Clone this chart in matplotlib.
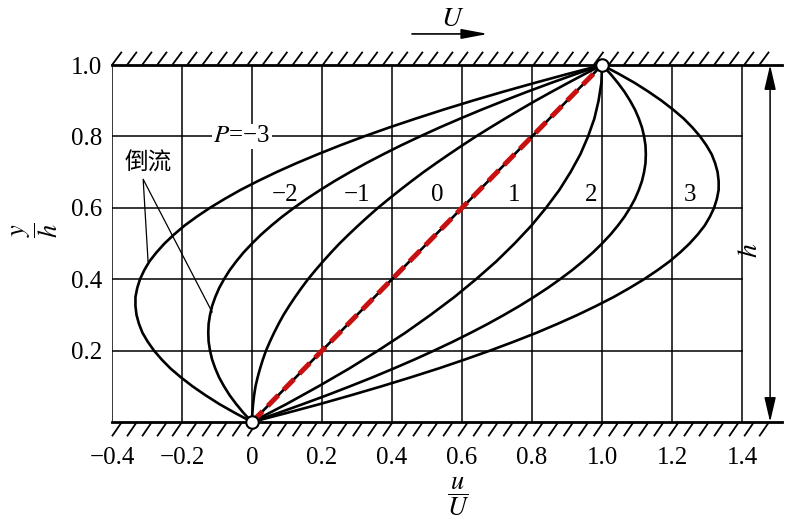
import numpy as np
import matplotlib.pyplot as plt
from matplotlib.collections import LineCollection

plt.rcParams['font.family'] = ['Liberation Serif', 'Noto Sans CJK SC']
plt.rcParams['mathtext.fontset'] = 'stix'

# y/h positions and u/U
y_h = [0, 0.025, 0.05, 0.075, 0.1, 0.125, 0.15, 0.175, 0.2, 0.225, 0.25,
       0.275, 0.3, 0.325, 0.35, 0.375, 0.4, 0.425, 0.45, 0.475, 0.5,
       0.525, 0.55, 0.575, 0.6, 0.625, 0.65, 0.675, 0.7, 0.725, 0.75,
       0.775, 0.8, 0.825, 0.85, 0.875, 0.9, 0.925, 0.95, 0.975, 1.0]
u_m3 = [0, -0.048, -0.093, -0.133, -0.17, -0.203, -0.233, -0.258, -0.28, -0.298, -0.313,
        -0.323, -0.33, -0.333, -0.333, -0.328, -0.32, -0.308, -0.293, -0.273, -0.25,
        -0.223, -0.193, -0.158, -0.12, -0.078, -0.033, 0.017, 0.07, 0.127, 0.188,
        0.252, 0.32, 0.392, 0.468, 0.547, 0.63, 0.717, 0.808, 0.902, 1.0]
u_m2 = [0, -0.024, -0.045, -0.064, -0.08, -0.094, -0.105, -0.114, -0.12, -0.124, -0.125,
        -0.124, -0.12, -0.114, -0.105, -0.094, -0.08, -0.064, -0.045, -0.024, 0.0,
        0.026, 0.055, 0.086, 0.12, 0.156, 0.195, 0.236, 0.28, 0.326, 0.375,
        0.426, 0.48, 0.536, 0.595, 0.656, 0.72, 0.786, 0.855, 0.926, 1.0]
u_m1 = [0, 0.001, 0.003, 0.006, 0.01, 0.016, 0.023, 0.031, 0.04, 0.051, 0.063,
        0.076, 0.09, 0.106, 0.123, 0.141, 0.16, 0.181, 0.203, 0.226, 0.25,
        0.276, 0.303, 0.331, 0.36, 0.391, 0.423, 0.456, 0.49, 0.526, 0.563,
        0.601, 0.64, 0.681, 0.723, 0.766, 0.81, 0.856, 0.903, 0.951, 1.0]
u_0 = [0, 0.025, 0.05, 0.075, 0.1, 0.125, 0.15, 0.175, 0.2, 0.225, 0.25,
       0.275, 0.3, 0.325, 0.35, 0.375, 0.4, 0.425, 0.45, 0.475, 0.5,
       0.525, 0.55, 0.575, 0.6, 0.625, 0.65, 0.675, 0.7, 0.725, 0.75,
       0.775, 0.8, 0.825, 0.85, 0.875, 0.9, 0.925, 0.95, 0.975, 1.0]
u_p1 = [0, 0.049, 0.098, 0.144, 0.19, 0.234, 0.278, 0.319, 0.36, 0.399, 0.438,
        0.474, 0.51, 0.544, 0.578, 0.609, 0.64, 0.669, 0.698, 0.724, 0.75,
        0.774, 0.798, 0.819, 0.84, 0.859, 0.878, 0.894, 0.91, 0.924, 0.938,
        0.949, 0.96, 0.969, 0.978, 0.984, 0.99, 0.994, 0.998, 0.999, 1.0]
u_p2 = [0, 0.074, 0.145, 0.214, 0.28, 0.344, 0.405, 0.464, 0.52, 0.574, 0.625,
        0.674, 0.72, 0.764, 0.805, 0.844, 0.88, 0.914, 0.945, 0.974, 1.0,
        1.024, 1.045, 1.064, 1.08, 1.094, 1.105, 1.114, 1.12, 1.124, 1.125,
        1.124, 1.12, 1.114, 1.105, 1.094, 1.08, 1.064, 1.045, 1.024, 1.0]
u_p3 = [0, 0.098, 0.193, 0.283, 0.37, 0.453, 0.533, 0.608, 0.68, 0.748, 0.813,
        0.873, 0.93, 0.983, 1.033, 1.078, 1.12, 1.158, 1.193, 1.223, 1.25,
        1.273, 1.293, 1.308, 1.32, 1.328, 1.333, 1.333, 1.33, 1.323, 1.313,
        1.298, 1.28, 1.258, 1.233, 1.203, 1.17, 1.133, 1.093, 1.048, 1.0]
profiles = [u_m3, u_m2, u_m1, u_0, u_p1, u_p2, u_p3]
curve_labels = ['\u22122', '\u22121', '0', '1', '2', '3']

xticks = [-0.4, -0.2, 0, 0.2, 0.4, 0.6, 0.8, 1.0, 1.2, 1.4]
xticklabels = ['\u22120.4', '\u22120.2', '0', '0.2', '0.4', '0.6', '0.8', '1.0', '1.2', '1.4']
yticks = [0.2, 0.4, 0.6, 0.8, 1.0]
yticklabels = ['0.2', '0.4', '0.6', '0.8', '1.0']

fig = plt.figure(figsize=(7.96, 5.25), dpi=100)
ax = fig.add_axes([112/796, 103/525, 670/796, 357/525])
ax.set_xlim(-0.4, 1.514)
ax.set_ylim(0, 1)
for s in ax.spines.values():
    s.set_visible(False)

ax.set_xticks(xticks)
ax.set_xticklabels(xticklabels, fontsize=18)
ax.set_yticks(yticks)
ax.set_yticklabels(yticklabels, fontsize=18)
ax.tick_params(axis='x', length=0, pad=18)
ax.tick_params(axis='y', length=0, pad=7)

# grid
for xv in xticks:
    ax.plot([xv, xv], [0, 1], color='k', lw=1.1, zorder=1)
for yv in yticks[:-1]:
    ax.plot([-0.4, 1.4], [yv, yv], color='k', lw=1.1, zorder=1)

# walls with hatching
ax.plot([-0.4, 1.514], [0, 0], color='k', lw=2, clip_on=False, zorder=3)
ax.plot([-0.4, 1.514], [1, 1], color='k', lw=2, clip_on=False, zorder=3)
hx = np.arange(-0.4, 1.49, 0.043)
segs = [[(x, 1), (x + 0.028, 1.037)] for x in hx]
segs += [[(x + 0.028, 0), (x, -0.04)] for x in hx]
ax.add_collection(LineCollection(segs, colors='k', linewidths=1.3, clip_on=False))

# velocity profiles
for u in profiles:
    ax.plot(u, y_h, color='k', lw=1.9, zorder=3)
ax.plot(u_0, y_h, color='#c81010', lw=3.6, ls=(0, (3, 1.5)), zorder=4)
ax.plot([u_0[0], u_0[-1]], [y_h[0], y_h[-1]], 'o', mfc='white', mec='k',
        ms=9, mew=1.5, zorder=5, clip_on=False)

# labels on curves
ax.text(-0.03, 0.8, '$P$=\u22123', fontsize=18, ha='center', va='center',
        bbox=dict(facecolor='white', edgecolor='none', pad=1), zorder=2)
for lx, lab in zip([0.094, 0.30, 0.53, 0.75, 0.97, 1.25], curve_labels):
    ax.text(lx, 0.635, lab, fontsize=18, ha='center', va='center', zorder=2)

ax.text(-0.297, 0.725, '倒流', fontsize=17, ha='center', va='center',
        family=['Noto Sans CJK SC'])
ax.plot([-0.297, -0.311, -0.114], [0.45, 0.68, 0.308], color='k', lw=0.9)

# h arrow
ax.annotate('', xy=(1.48, 0), xytext=(1.48, 1),
            arrowprops=dict(arrowstyle='<|-|>,head_length=1.5,head_width=0.35',
                            color='k', lw=1.1, shrinkA=0, shrinkB=0))
ax.text(1.423, 0.48, '$h$', fontsize=20, rotation=90, ha='center', va='center')

# U arrow
ax.annotate('', xy=(0.674, 1.087), xytext=(0.457, 1.087), annotation_clip=False,
            arrowprops=dict(arrowstyle='-|>,head_length=1.6,head_width=0.3',
                            color='k', lw=1.2, shrinkA=0, shrinkB=0))
ax.text(0.574, 1.128, '$U$', fontsize=20, ha='center', va='center')

fig.text(35/796, 1 - 230/525, r'$\dfrac{y}{h}$', fontsize=19, rotation=90,
         ha='center', va='center')
fig.text(458/796, 1 - 496/525, r'$\dfrac{u}{U}$', fontsize=19,
         ha='center', va='center')

fig.savefig('out.png', dpi=100)
